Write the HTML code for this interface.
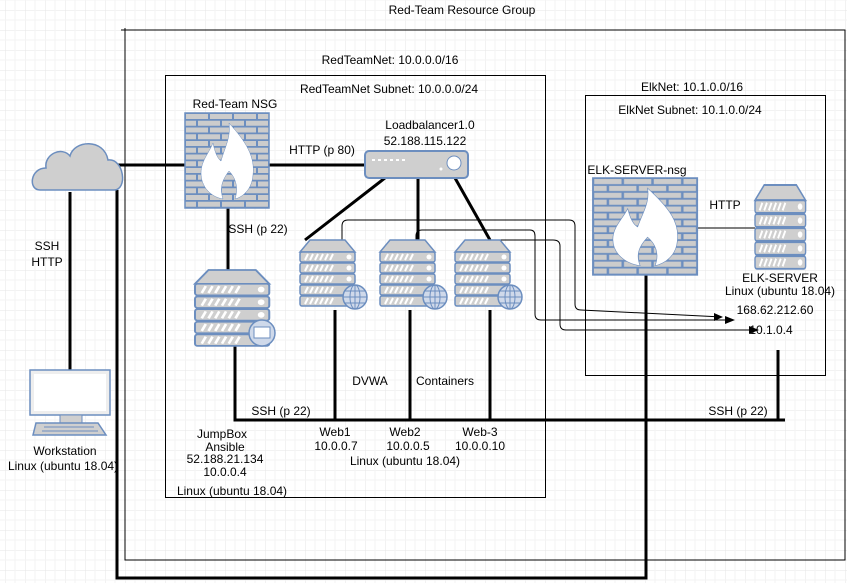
<!DOCTYPE html>
<html><head><meta charset="utf-8"><style>
html,body{margin:0;padding:0;background:#fff}
svg{display:block}
text{font-family:"Liberation Sans",Arial,sans-serif;font-size:12px;fill:#000}
</style></head><body>
<svg width="847" height="583" viewBox="0 0 847 583" xmlns="http://www.w3.org/2000/svg">
<defs>
<pattern id="grid" width="20" height="20" patternUnits="userSpaceOnUse" x="5" y="10">
<path d="M20 0H0V20" fill="none" stroke="#e6e6e6" stroke-width="1"/>
<path d="M10 0V20M0 10H20" fill="none" stroke="#f3f3f3" stroke-width="1"/>
</pattern>
<pattern id="brick" width="24" height="13.5" patternUnits="userSpaceOnUse" x="0" y="0">
<rect width="24" height="13.5" fill="#6c8ebf"/>
<rect x="1" y="1" width="22" height="5" fill="#cccccc"/>
<rect x="-11" y="7.75" width="22" height="5" fill="#cccccc"/>
<rect x="13" y="7.75" width="22" height="5" fill="#cccccc"/>
</pattern>
<g id="server">
<path d="M0 12 L10 0 H45 L55 12 Z" fill="#cfcfcf" stroke="#6c8ebf" stroke-width="1.5"/>
<g fill="#cfcfcf" stroke="#6c8ebf" stroke-width="1.5">
<rect x="0" y="12" width="55" height="10" rx="2"/>
<rect x="0" y="23" width="55" height="10" rx="2"/>
<rect x="0" y="34" width="55" height="10" rx="2"/>
<rect x="0" y="45" width="55" height="10" rx="2"/>
<rect x="0" y="56" width="55" height="10" rx="2"/>
</g>
<g stroke="#fff" stroke-width="2">
<path d="M5 20l3-6M10 20l3-6M15 20l3-6M20 20l3-6M25 20l3-6M30 20l3-6"/>
<path d="M5 31l3-6M10 31l3-6M15 31l3-6M20 31l3-6M25 31l3-6M30 31l3-6"/>
<path d="M5 42l3-6M10 42l3-6M15 42l3-6M20 42l3-6M25 42l3-6M30 42l3-6"/>
<path d="M5 53l3-6M10 53l3-6M15 53l3-6M20 53l3-6M25 53l3-6M30 53l3-6"/>
<path d="M5 64l3-6M10 64l3-6M15 64l3-6M20 64l3-6M25 64l3-6M30 64l3-6"/>
</g>
<g fill="#fff"><circle cx="49" cy="17" r="2.5"/><circle cx="49" cy="28" r="2.5"/><circle cx="49" cy="39" r="2.5"/><circle cx="49" cy="50" r="2.5"/><circle cx="49" cy="61" r="2.5"/></g>
</g>
<g id="globe">
<circle cx="0" cy="0" r="12" fill="#cfd9ea" stroke="#6c8ebf" stroke-width="1.5"/>
<ellipse cx="0" cy="0" rx="5" ry="12" fill="none" stroke="#6c8ebf"/>
<path d="M0 -12V12M-12 0H12M-10 -6H10M-10 6H10" stroke="#6c8ebf" fill="none"/>
</g>
<g id="fw">
<rect x="0" y="0" width="84" height="95" fill="url(#brick)" stroke="#6c8ebf" stroke-width="1.5"/>
<path d="M44 10 C62 30 70 44 68 62 C67 76 58 84 50 86 C54 74 50 64 44 58 C38 66 34 74 38 86 C26 84 16 74 16 60 C16 48 24 40 28 30 C30 40 33 46 36 48 C40 34 46 24 44 10Z" fill="#fff" stroke="#6c8ebf" stroke-width="0.5"/>
</g>
</defs>
<rect width="847" height="583" fill="url(#grid)"/>

<g fill="none" stroke="#000" stroke-width="1">
<path d="M125 28V560H845V30H121"/>
<rect x="165.5" y="75.5" width="380" height="422"/>
<rect x="585.5" y="95.5" width="240" height="280"/>
</g>

<g stroke="#000" stroke-width="3" fill="none">
<path d="M117 165H185"/>
<path d="M268 165H365"/>
<path d="M70 192V370"/>
<path d="M117 190V578H646V272"/>
<path d="M228 207V270"/>
<path d="M235 345V420H785"/>
<path d="M335 310V420M410 310V420M490 310V420"/>
<path d="M778 350V420"/>
<path d="M385 178L305 240M418 178V240M455 178L490 240"/>
</g>
<path d="M697 228H755" stroke="#555" stroke-width="1.5"/>

<g stroke="#000" stroke-width="1" fill="none">
<path d="M342 255V226Q342 220 348 220H569Q575 220 575 226V304Q575 310 581 310L722 317"/>
<path d="M416 255V236Q416 230 422 230H530Q535 230 535 236V314Q535 320 541 320H733"/>
<path d="M482 240H553Q560 240 560 246V324Q560 330 566 330H757"/>
</g>
<g fill="#000">
<path d="M723 317l-9-4v8z"/>
<path d="M735 320l-10-4v8z"/>
<path d="M759 330l-10-4v8z"/>
</g>

<path d="M40 190 C28 190 30 168 46 168 C44 154 62 146 70 156 C74 140 104 138 108 160 C124 158 128 190 114 190 Z" fill="#cfcfcf" stroke="#6c8ebf" stroke-width="1.5"/>

<rect x="30" y="370" width="80" height="45" fill="#eee" stroke="#6c8ebf" stroke-width="1.5"/>
<rect x="34" y="374" width="72" height="37" fill="#fff"/>
<rect x="60" y="415" width="22" height="8" fill="#cfcfcf" stroke="#6c8ebf"/>
<path d="M36 423H98L106 435H33Z" fill="#cfcfcf" stroke="#6c8ebf" stroke-width="1.5"/>
<path d="M44 427H94M42 431H98" stroke="#6c8ebf"/>

<use href="#fw" x="185" y="113"/>
<use href="#fw" transform="translate(593 178) scale(1.24 1.02)"/>

<rect x="365" y="151" width="103" height="27" rx="4" fill="#cfcfcf" stroke="#6c8ebf" stroke-width="2"/>
<path d="M372 160h36" stroke="#fff" stroke-width="2" stroke-dasharray="3 3"/>
<circle cx="454" cy="163" r="7" fill="#fff" stroke="#6c8ebf"/>
<circle cx="441" cy="169" r="1.5" fill="#fff"/>

<use href="#server" transform="translate(195 270) scale(1.35 1.15)"/>
<circle cx="262" cy="333" r="13" fill="#cfd9ea" stroke="#6c8ebf" stroke-width="1.5"/>
<rect x="254" y="327" width="16" height="11" fill="#fff" stroke="#6c8ebf"/>
<use href="#server" x="300" y="240"/>
<use href="#globe" x="355" y="297"/>
<use href="#server" x="380" y="240"/>
<use href="#globe" x="435" y="297"/>
<use href="#server" x="455" y="240"/>
<use href="#globe" x="510" y="297"/>
<use href="#server" transform="translate(755 185) scale(0.92 1.27)"/>

<g text-anchor="middle">
<text x="462" y="14">Red-Team Resource Group</text>
<text x="390" y="64">RedTeamNet: 10.0.0.0/16</text>
<text x="389" y="93">RedTeamNet Subnet: 10.0.0.0/24</text>
<text x="692" y="91">ElkNet: 10.1.0.0/16</text>
<text x="690" y="114">ElkNet Subnet: 10.1.0.0/24</text>
<text x="235" y="108">Red-Team NSG</text>
<text x="430" y="129">Loadbalancer1.0</text>
<text x="425" y="145">52.188.115.122</text>
<text x="322" y="154">HTTP (p 80)</text>
<text x="258" y="233">SSH (p 22)</text>
<text x="47" y="250">SSH</text>
<text x="47" y="266">HTTP</text>
<text x="637" y="174">ELK-SERVER-nsg</text>
<text x="725" y="209">HTTP</text>
<text x="780" y="282">ELK-SERVER</text>
<text x="780" y="295">Linux (ubuntu 18.04)</text>
<text x="775" y="314">168.62.212.60</text>
<text x="771" y="334">10.1.0.4</text>
<text x="370" y="385">DVWA</text>
<text x="445" y="385">Containers</text>
<text x="281" y="415">SSH (p 22)</text>
<text x="738" y="415">SSH (p 22)</text>
<text x="222" y="438">JumpBox</text>
<text x="225" y="451">Ansible</text>
<text x="225" y="463">52.188.21.134</text>
<text x="225" y="476">10.0.0.4</text>
<text x="232" y="495">Linux (ubuntu 18.04)</text>
<text x="335" y="436">Web1</text>
<text x="336" y="450">10.0.0.7</text>
<text x="405" y="436">Web2</text>
<text x="408" y="450">10.0.0.5</text>
<text x="480" y="436">Web-3</text>
<text x="480" y="450">10.0.0.10</text>
<text x="405" y="465">Linux (ubuntu 18.04)</text>
<text x="65" y="455">Workstation</text>
<text x="63" y="470">Linux (ubuntu 18.04)</text>
</g>
</svg>
</body></html>
